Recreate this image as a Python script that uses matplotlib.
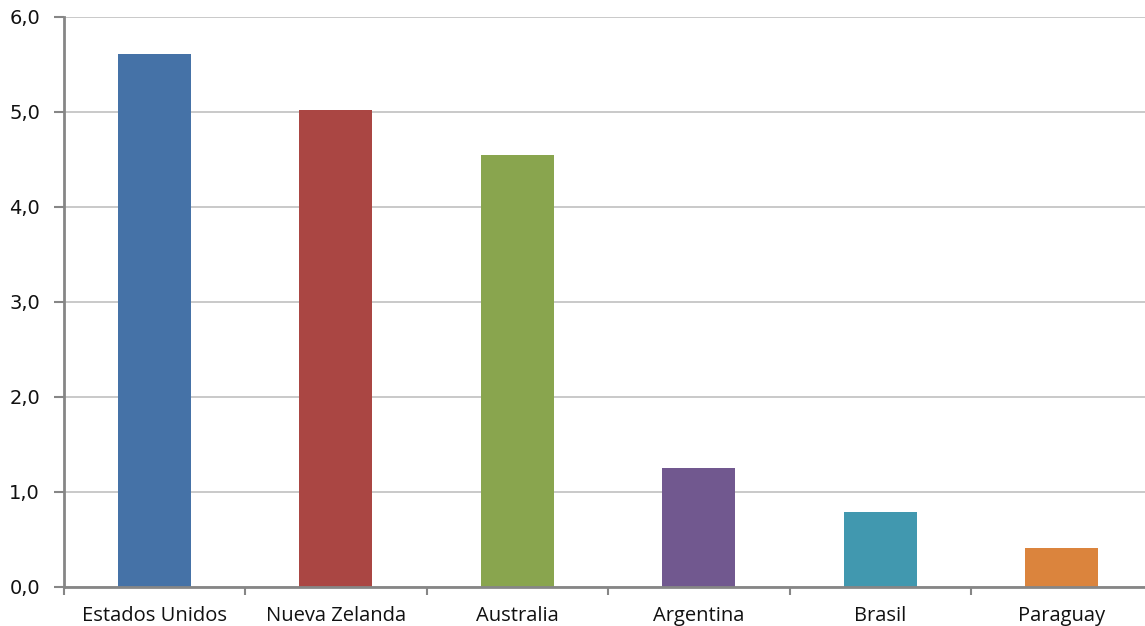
import matplotlib.pyplot as plt
from matplotlib.ticker import FixedLocator, FuncFormatter

# Country values (same units as the y axis)
countries = ['Estados Unidos', 'Nueva Zelanda', 'Australia', 'Argentina', 'Brasil', 'Paraguay']
values = [5.61, 5.02, 4.54, 1.25, 0.79, 0.41]
bar_colors = ['#4572A7', '#AA4643', '#89A54E', '#71588F', '#4198AF', '#DB843D']

W, H = 1145, 626
fig = plt.figure(figsize=(W / 100, H / 100), dpi=100)
# plot area runs slightly past the right edge of the canvas
ax = fig.add_axes([63.5 / W, (H - 586.7) / H, 1089 / W, 570 / H])

x = list(range(len(countries)))
ax.bar(x, values, width=0.4, color=bar_colors, zorder=3)

ax.set_xlim(-0.5, len(countries) - 0.5)
ax.set_ylim(0, 6)
ax.set_yticks([0, 1, 2, 3, 4, 5, 6])
ax.yaxis.set_major_formatter(FuncFormatter(lambda v, p: f'{v:.1f}'.replace('.', ',')))
ax.yaxis.grid(True, color='#c0c0c0', linewidth=1.2, zorder=0)

# category labels centred, ticks on the boundaries between categories
ax.set_xticks(x)
ax.set_xticklabels(countries, fontsize=14.5, family=['Open Sans', 'DejaVu Sans'], color='#111111')
ax.tick_params(axis='x', which='major', length=0, pad=14)
ax.xaxis.set_minor_locator(FixedLocator([i - 0.5 for i in range(len(countries) + 1)]))
ax.tick_params(axis='x', which='minor', length=6, width=1.5, color='#868686', direction='out')
ax.tick_params(axis='y', length=7, width=1.5, color='#868686', direction='out',
               labelsize=14, pad=10, labelcolor='#111111')

for side in ['top', 'right']:
    ax.spines[side].set_visible(False)
for side in ['left', 'bottom']:
    ax.spines[side].set_color('#868686')
    ax.spines[side].set_linewidth(2)
    ax.spines[side].set_zorder(4)

fig.savefig('out.png', dpi=100)
